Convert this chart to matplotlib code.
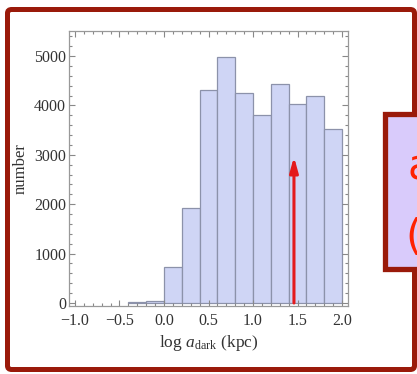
import matplotlib
matplotlib.use("Agg")
import matplotlib.pyplot as plt
from matplotlib.patches import FancyBboxPatch, Rectangle
import numpy as np

# Histogram of log a_dark
bin_edges = [-0.4, -0.2, 0.0, 0.2, 0.4, 0.6, 0.8, 1.0, 1.2, 1.4, 1.6, 1.8, 2.0]
counts = [12, 45, 720, 1930, 4310, 4970, 4260, 3800, 4430, 4020, 4200, 3520]
marker_x = 1.46
marker_top = 2960

x_ticks = [-1.0, -0.5, 0.0, 0.5, 1.0, 1.5, 2.0]
x_tick_labels = ["\u22121.0", "\u22120.5", "0.0", "0.5", "1.0", "1.5", "2.0"]
y_ticks = [0, 1000, 2000, 3000, 4000, 5000]

W, H = 417, 374
plt.rcParams["mathtext.fontset"] = "custom"
plt.rcParams["mathtext.rm"] = "Liberation Serif"
plt.rcParams["mathtext.it"] = "Liberation Serif:italic"

fig = plt.figure(figsize=(W / 100, H / 100), dpi=100)
fig.patch.set_facecolor("white")

def fx(px):
    return px / W

def fy(py):
    return 1 - py / H

# slide frame
frame = FancyBboxPatch((fx(7.5), fy(369.5)), fx(414.5) - fx(7.5), fy(9.5) - fy(369.5),
                       boxstyle="round,pad=0,rounding_size=0.01", transform=fig.transFigure,
                       facecolor="none", edgecolor="#9a1a0a", linewidth=3.6, zorder=1)
fig.patches.append(frame)

# title running off the top of the slide
fig.text(0.52, fy(-4.5), "Histogram of log $a_{\\rm dark}$ (kpc)", ha="center", va="baseline",
         fontsize=17, family="Liberation Serif", color="#222222")

ax = fig.add_axes([fx(69), fy(306), fx(348) - fx(69), fy(31) - fy(306)])
ax.set_zorder(2)
widths = np.diff(bin_edges)
ax.bar(bin_edges[:-1], counts, width=widths, align="edge",
       color="#cfd5f5", edgecolor="#8c92aa", linewidth=0.9)
ax.annotate("", xy=(marker_x, marker_top), xytext=(marker_x, 0),
            arrowprops=dict(arrowstyle="-|>,head_width=0.25,head_length=0.9",
                            color="#e41a1c", lw=2.2, shrinkA=0, shrinkB=0))

ax.set_xlim(-1.067, 2.067)
ax.set_ylim(-61, 5506)
ax.set_xticks(x_ticks)
ax.set_xticklabels(x_tick_labels)
ax.set_yticks(y_ticks)
ax.set_xticks(np.arange(-1.0, 2.01, 0.1), minor=True)
ax.set_yticks(np.arange(0, 5501, 200), minor=True)
ax.tick_params(which="both", direction="in", top=True, right=True, color="#888888",
               width=0.8)
ax.tick_params(which="major", length=4, labelsize=11.5, labelcolor="#333333")
ax.tick_params(axis="x", which="major", pad=5)
ax.tick_params(axis="y", which="major", pad=2)
ax.tick_params(which="minor", length=2)
for lab in ax.get_xticklabels() + ax.get_yticklabels():
    lab.set_family("Liberation Serif")
for sp in ax.spines.values():
    sp.set_color("#999999")
    sp.set_linewidth(0.9)

ax.set_xlabel("log $a_{\\rm dark}$ (kpc)", fontsize=12.5, family="Liberation Serif",
              color="#333333", labelpad=3)
ax.set_ylabel("number", fontsize=12, family="Liberation Serif", color="#333333",
              labelpad=4)

# side note box
box = Rectangle((fx(384.5), fy(269)), fx(430) - fx(384.5), fy(114) - fy(269),
                transform=fig.transFigure, facecolor="#d9cbfb", edgecolor="#9a1a0a",
                linewidth=3.8, zorder=5)
fig.patches.append(box)
fig.text(fx(407), fy(180), "a", fontsize=30, color="#ff2200", family="DejaVu Sans",
         ha="left", va="baseline", zorder=6)
fig.text(fx(405), fy(250), "(", fontsize=30, color="#ff2200", family="DejaVu Sans",
         ha="left", va="baseline", zorder=6)

fig.savefig("out.png", dpi=100)
